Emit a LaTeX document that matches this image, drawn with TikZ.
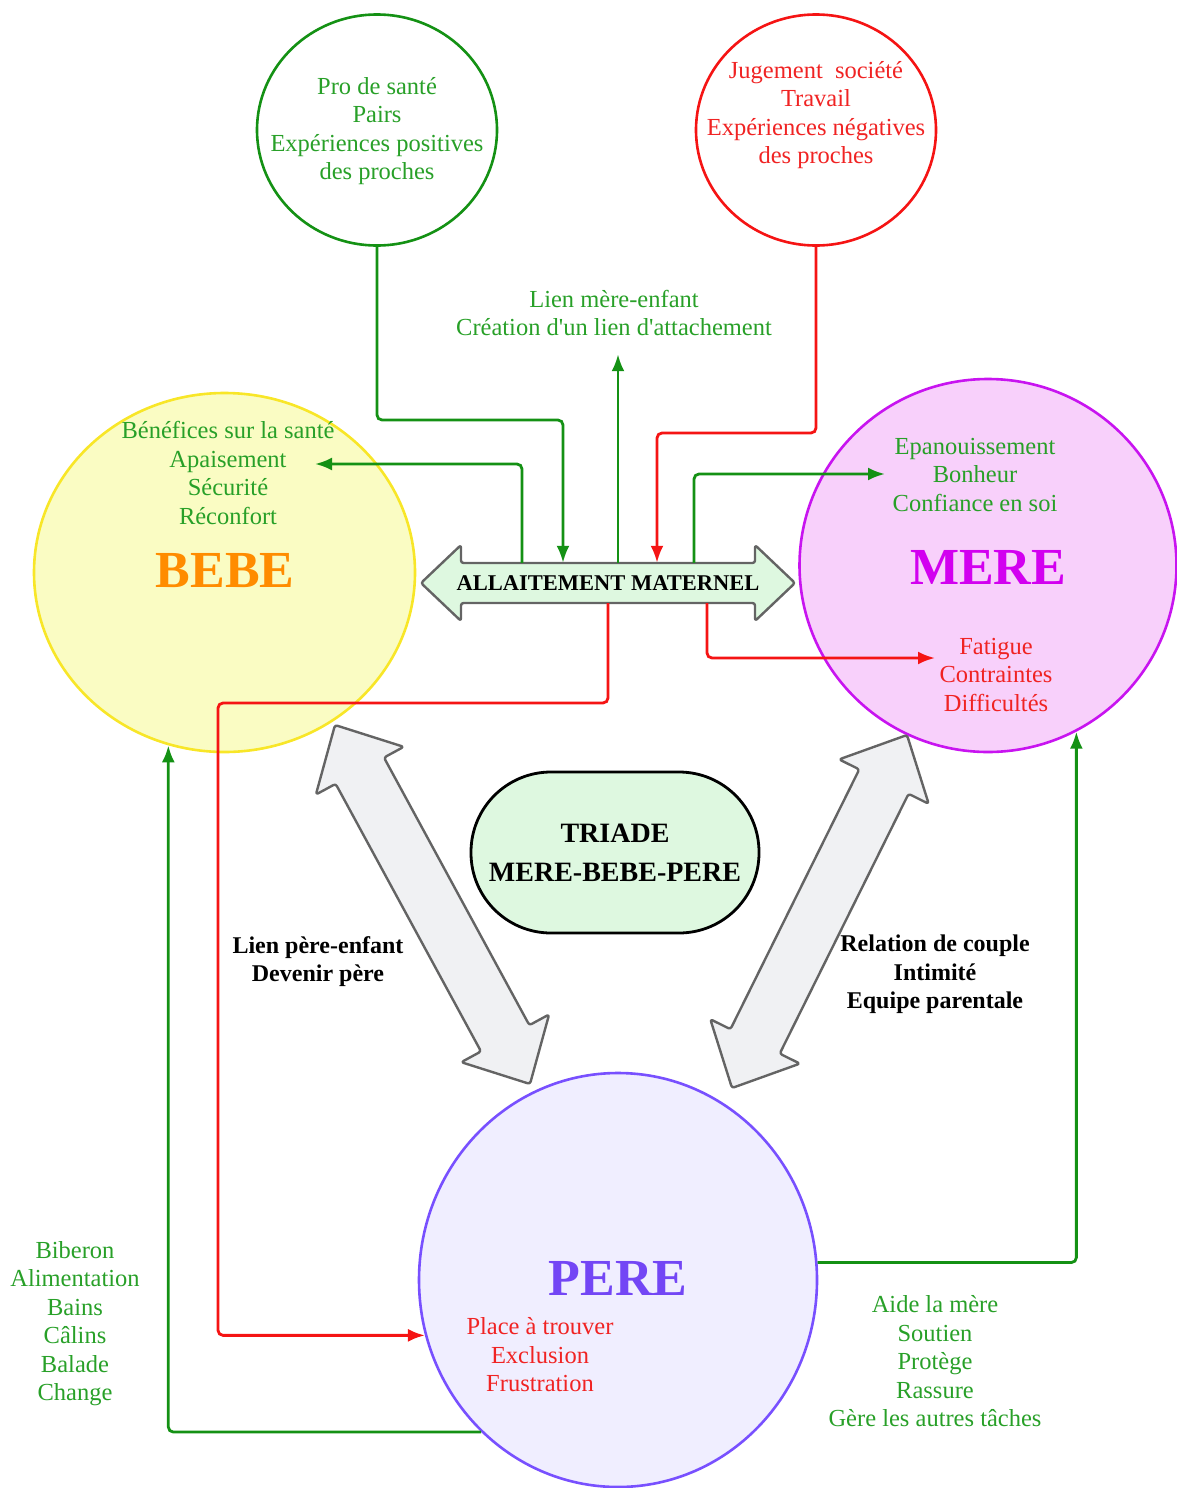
\documentclass[tikz,border=0pt]{standalone}
\usepackage{fontspec}
\setmainfont{Liberation Serif}
\usetikzlibrary{shapes.geometric,arrows.meta,calc}
\definecolor{gline}{RGB}{20,145,20}
\definecolor{gtxt}{RGB}{40,160,40}
\definecolor{rline}{RGB}{245,20,20}
\definecolor{rtxt}{RGB}{240,35,35}
\definecolor{bebefill}{RGB}{250,252,195}
\definecolor{bebedraw}{RGB}{248,230,40}
\definecolor{bebetxt}{RGB}{255,140,0}
\definecolor{merefill}{RGB}{248,208,251}
\definecolor{meredraw}{RGB}{200,20,240}
\definecolor{meretxt}{RGB}{210,0,240}
\definecolor{perefill}{RGB}{240,238,255}
\definecolor{peredraw}{RGB}{120,80,255}
\definecolor{peretxt}{RGB}{115,70,245}
\definecolor{triadefill}{RGB}{222,248,224}
\definecolor{blockfill}{RGB}{240,241,243}
\definecolor{blockdraw}{RGB}{100,100,100}
\newcommand\dblarrow[7]{% #1 name, #2 tip A, #3 tip B, #4 shaft half width, #5 head half width, #6 head length, #7 fill
  \coordinate (#1-a) at (#2);
  \coordinate (#1-b) at (#3);
  \coordinate (#1-p) at ($(#1-a)!#6!(#1-b)$);
  \coordinate (#1-q) at ($(#1-b)!#6!(#1-a)$);
  \draw[blockarrow, fill=#7] (#1-a) -- ($(#1-p)!#5!90:(#1-b)$) -- ($(#1-p)!#4!90:(#1-b)$)
    -- ($(#1-q)!#4!-90:(#1-a)$) -- ($(#1-q)!#5!-90:(#1-a)$) -- (#1-b)
    -- ($(#1-q)!#5!90:(#1-a)$) -- ($(#1-q)!#4!90:(#1-a)$)
    -- ($(#1-p)!#4!-90:(#1-b)$) -- ($(#1-p)!#5!-90:(#1-b)$) -- cycle;}
\begin{document}
\begin{tikzpicture}[x=1pt,y=-1pt,
  circ/.style={ellipse, line width=2.6pt, inner sep=0pt},
  txt/.style={align=center, font=\fontsize{24.5}{28.5}\selectfont, inner sep=0pt},
  blab/.style={align=center, font=\fontsize{24}{28.5}\selectfont\bfseries, inner sep=0pt},
  big/.style={font=\fontsize{52}{60}\selectfont\bfseries, inner sep=0pt},
  gl/.style={draw=gline, line width=2.8pt, rounded corners=5pt, -{Latex[length=17pt,width=13pt]}},
  rl/.style={draw=rline, line width=2.8pt, rounded corners=5pt, -{Latex[length=17pt,width=13pt]}},
  blockarrow/.style={draw=blockdraw, line width=2.4pt, rounded corners=2.5pt, line join=round},
  triade/.style={draw=black, fill=triadefill, line width=2.8pt, rounded corners=80pt,
    minimum width=288pt, minimum height=161pt, align=center,
    font=\fontsize{28}{39}\selectfont\bfseries}
]
\useasboundingbox (0,0) rectangle (1176,1488);

% circles
\node[circ, draw=gline, minimum width=240pt, minimum height=231pt] (pro) at (377,130) {};
\node[circ, draw=rline, minimum width=240pt, minimum height=231pt] (jug) at (816,130) {};
\node[circ, draw=bebedraw, fill=bebefill, minimum width=381pt, minimum height=359pt] (bebe) at (224.5,572.5) {};
\node[circ, draw=meredraw, fill=merefill, minimum width=377pt, minimum height=373pt] (mere) at (988,565.5) {};
\node[circ, draw=peredraw, fill=perefill, minimum width=398pt, minimum height=414pt] (pere) at (618,1280) {};

% texts in circles
\node[txt, text=gtxt] (protxt) at (377,131) {Pro de santé\\Pairs\\Expériences positives\\des proches};
\node[txt, text=rtxt] (jugtxt) at (816,115) {Jugement\ \ société\\Travail\\Expériences négatives\\des proches};
\node[txt, text=gtxt] (bebetx) at (228,473) {Bénéfices sur la santé\\Apaisement\\Sécurité\\Réconfort};
\node[big, text=bebetxt] (bebelab) at (225,571) {BEBE};
\node[txt, text=gtxt] (meretx) at (975,475) {Epanouissement\\Bonheur\\Confiance en soi};
\node[big, text=meretxt] (merelab) at (988,567) {MERE};
\node[txt, text=rtxt] (merered) at (996,675) {Fatigue\\Contraintes\\Difficultés};
\node[big, text=peretxt] (perelab) at (618,1278) {PERE};
\node[txt, text=rtxt] (perered) at (540,1355) {Place à trouver\\Exclusion\\Frustration};

% free labels
\node[txt, text=gtxt] (lien) at (614,313) {Lien mère-enfant\\Création d\textquotesingle un lien d\textquotesingle attachement};
\node[txt, text=gtxt] (bebelist) at (75,1323.5) {Biberon\\Alimentation\\Bains\\Câlins\\Balade\\Change};
\node[txt, text=gtxt] (perelist) at (935,1361.5) {Aide la mère\\Soutien\\Protège\\Rassure\\Gère les autres tâches};
\node[blab] (pereenf) at (318,961.5) {Lien père-enfant\\Devenir père};
\node[blab] (couple) at (935,974.5) {Relation de couple\\Intimité\\Equipe parentale};

% triade
\node[triade] (tri) at (615,852.5) {TRIADE\\MERE-BEBE-PERE};

% block arrows
\dblarrow{bp}{335,725}{530,1084}{27.5pt}{50pt}{52pt}{blockfill}
\dblarrow{mp}{907,735}{732,1088}{27.5pt}{50pt}{52pt}{blockfill}
\dblarrow{amarrow}{421,583}{795,583}{20pt}{38pt}{40pt}{triadefill}
\node[inner sep=0pt, minimum width=300pt, minimum height=40pt,
  font=\fontsize{22.5}{26}\selectfont\bfseries] (am) at (608,583) {ALLAITEMENT MATERNEL};

% connector end points
\coordinate (apais) at (315,464);
\coordinate (epan) at (885,474);
\coordinate (fatig) at (935,658);

% connectors
\draw[gl] (pro.south) |- (563,420) -- (563,0 |- am.north);
\draw[rl] (jug.south) |- (657,433) -- (657,0 |- am.north);
\draw[gl, shorten >=18pt] (618,0 |- am.north) -- (618,0 |- lien.south);
\draw[gl] (522,0 |- am.north) |- (apais);
\draw[gl] (694,0 |- am.north) |- (epan);
\draw[rl] (707,0 |- am.south) |- (fatig);
\draw[rl] (am.south) |- (218,703) |- (pere.196);
\draw[gl] (pere.228) -| (bebe.252);
\draw[gl] (pere.5) -| (mere.298);
\end{tikzpicture}
\end{document}
